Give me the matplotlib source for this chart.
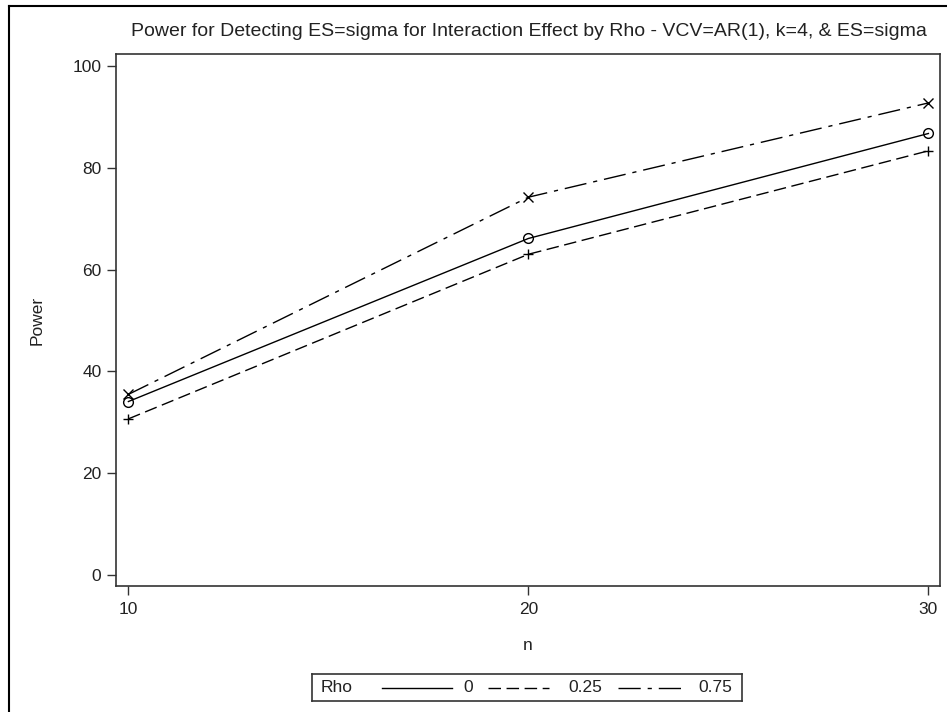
import matplotlib
matplotlib.use("Agg")
import matplotlib.pyplot as plt
from matplotlib.lines import Line2D

plt.rcParams['font.family'] = ['Liberation Sans', 'DejaVu Sans']

n_values = [10, 20, 30]
rho_labels = ["0", "0.25", "0.75"]
power_rho0 = [34.1, 66.1, 86.7]
power_rho025 = [30.7, 63.0, 83.3]
power_rho075 = [35.5, 74.2, 92.7]
y_ticks = [0, 20, 40, 60, 80, 100]
x_ticks = [10, 20, 30]
title = "Power for Detecting ES=sigma for Interaction Effect by Rho - VCV=AR(1), k=4, & ES=sigma"

W, H = 947, 712
fig = plt.figure(figsize=(W / 100, H / 100), dpi=100)

def fx(px):
    return px / W

def fy(py):
    return 1 - py / H

ax = fig.add_axes([fx(116), fy(586), fx(940) - fx(116), fy(54) - fy(586)])

series = [power_rho0, power_rho025, power_rho075]
styles = [dict(linestyle='-', marker='o', markersize=7, markerfacecolor='none'),
          dict(linestyle=(0, (9, 4)), marker='+', markersize=7.5),
          dict(linestyle=(0, (16, 5, 3, 5)), marker='x', markersize=6.5)]
for vals, st in zip(series, styles):
    ax.plot(n_values, vals, color='black', linewidth=1.0, markeredgewidth=1.0, **st)

ax.set_xlim(9.69, 30.29)
ax.set_ylim(-2.1, 102.3)
ax.set_xticks(x_ticks)
ax.set_yticks(y_ticks)
ax.tick_params(direction='out', length=6.5, width=1, color='#333333', labelsize=12.5,
               labelcolor='#222222')
ax.tick_params(axis='y', pad=4)
ax.tick_params(axis='x', pad=5)
for s in ax.spines.values():
    s.set_color('#333333')
    s.set_linewidth(1.2)

ax.set_xlabel('n', fontsize=12.5, labelpad=15, color='#222222')
ax.set_ylabel('Power', fontsize=12.5, labelpad=20, color='#222222')
fig.text(fx(529), fy(31), title, ha='center', va='center', fontsize=14, color='#222222')

# outer border (left and top visible, continuing off image)
fig.add_artist(Line2D([fx(9), fx(9)], [fy(6), fy(H + 10)], color='black', linewidth=1.5,
                      transform=fig.transFigure))
fig.add_artist(Line2D([fx(9), fx(W + 10)], [fy(6), fy(6)], color='black', linewidth=1.5,
                      transform=fig.transFigure))

# legend box
lx0, lx1, ly0, ly1 = 312, 742, 674, 701
lax = fig.add_axes([fx(lx0), fy(ly1), fx(lx1) - fx(lx0), fy(ly0) - fy(ly1)])
lax.set_xlim(lx0, lx1)
lax.set_ylim(ly1, ly0)
lax.set_xticks([])
lax.set_yticks([])
for s in lax.spines.values():
    s.set_color('#333333')
    s.set_linewidth(1.2)
yc = 687.5
lax.text(321, yc, "Rho", ha='left', va='center', fontsize=12.5, color='#222222')
seg = [(382, 452), (488, 549), (618, 683)]
lab_x = [463, 568, 698]
for (a, b), lx, lab, st in zip(seg, lab_x, rho_labels, styles):
    lax.plot([a, b], [yc, yc], color='black', linewidth=1.0, linestyle=st['linestyle'])
    lax.text(lx, yc, lab, ha='left', va='center', fontsize=12.5, color='#222222')

fig.savefig('out.png', dpi=100, facecolor='white')
